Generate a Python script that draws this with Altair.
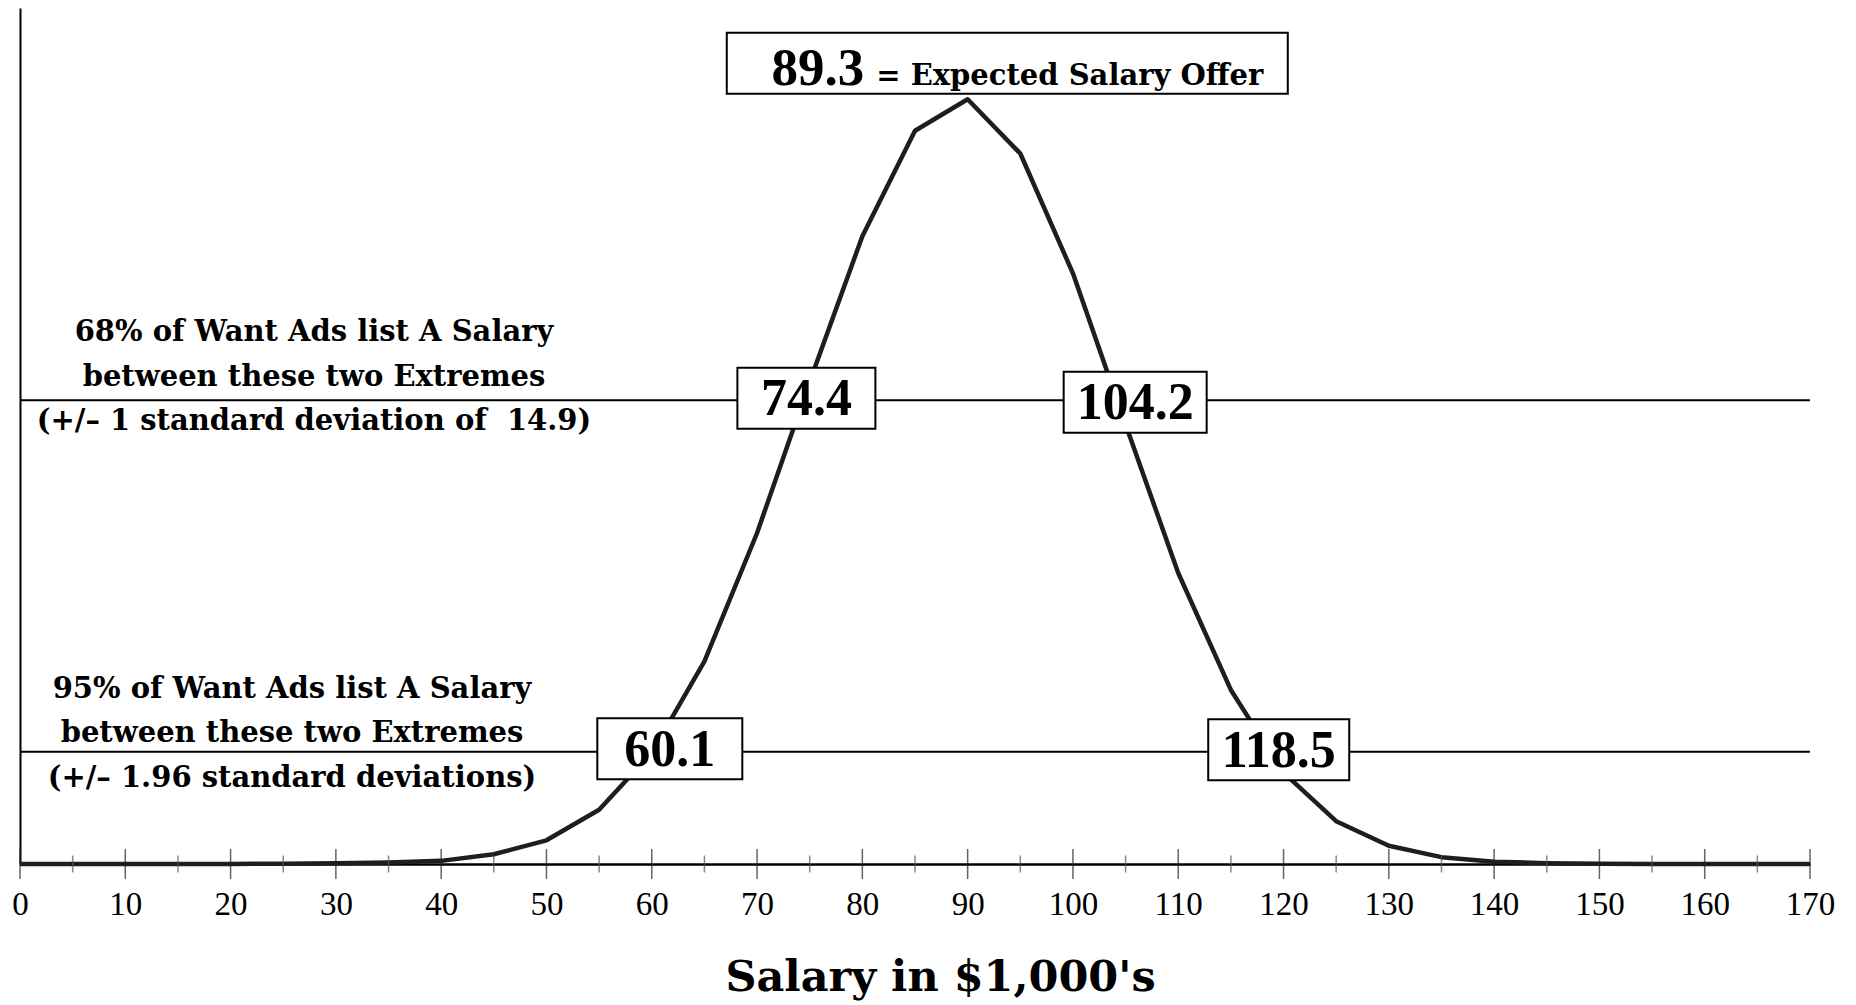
import altair as alt
import pandas as pd

# ---------------- data ----------------
salary_k = list(range(0, 175, 5))
density = [0, 0, 0, 0, 0, 0.00001, 0.00003, 0.00005, 0.00011, 0.00034,
           0.00083, 0.0019, 0.0039, 0.0071, 0.0116, 0.0169, 0.0220, 0.0257,
           0.0268, 0.0249, 0.0207, 0.0154, 0.0102, 0.0061, 0.0032, 0.0015,
           0.00064, 0.00024, 0.00008, 0.00003, 0.00001, 0, 0, 0, 0]

major_ticks = list(range(0, 171, 10))
minor_ticks = list(range(5, 170, 10))

mean_salary = 89.3
peak_density = 0.0268
one_sd_bounds = [74.4, 104.2]
two_sd_bounds = [60.1, 118.5]
level_68 = 0.01625
level_95 = 0.00393

mean_caption = "= Expected Salary Offer"
text_68 = ["68% of Want Ads list A Salary",
           "between these two Extremes",
           "(+/\u2013 1 standard deviation of\u00a0 14.9)"]
text_95 = ["95% of Want Ads list A Salary",
           "between these two Extremes",
           "(+/\u2013 1.96 standard deviations)"]
x_title = "Salary in $1,000's"

# ---------------- styling ----------------
SERIF = "DejaVu Serif"
NUM_FONT = "Liberation Serif"
INK = "#000000"
CURVE = "#1e1e1e"

X_SCALE = alt.Scale(domain=[0, 170], nice=False, zero=False)
Y_SCALE = alt.Scale(domain=[0, 0.03], nice=False)

x_axis = alt.Axis(values=major_ticks, ticks=False, grid=False,
                  domainColor=INK, domainWidth=2.5,
                  labelFont=NUM_FONT, labelFontSize=33, labelColor=INK,
                  labelBaseline="alphabetic", labelPadding=50,
                  labelFlush=False, labelOverlap=False,
                  title=x_title, titleFont=SERIF, titleFontSize=43,
                  titleFontWeight="bold", titleColor=INK,
                  titleX=920, titleY=126, titleBaseline="alphabetic",
                  titleAlign="center")
y_axis = alt.Axis(labels=False, ticks=False, grid=False, title=None,
                  domainColor=INK, domainWidth=2)

curve_df = pd.DataFrame({"salary": salary_k, "density": density})

curve = alt.Chart(curve_df).mark_line(
    color=CURVE, strokeWidth=4.5, strokeJoin="round"
).encode(
    x=alt.X("salary:Q", scale=X_SCALE, axis=x_axis),
    y=alt.Y("density:Q", scale=Y_SCALE, axis=y_axis),
)

levels_df = pd.DataFrame({"density": [level_68, level_95]})
rules = alt.Chart(levels_df).mark_rule(color=INK, strokeWidth=2).encode(
    y=alt.Y("density:Q", scale=Y_SCALE),
    x=alt.datum(0),
    x2=alt.datum(170),
)

ticks_major = alt.Chart(pd.DataFrame({"salary": major_ticks})).mark_tick(
    orient="vertical", size=30, thickness=1.5, color="#222222"
).encode(x=alt.X("salary:Q", scale=X_SCALE), y=alt.datum(0))

ticks_minor = alt.Chart(pd.DataFrame({"salary": minor_ticks})).mark_tick(
    orient="vertical", size=17, thickness=1.5, color="#555555"
).encode(x=alt.X("salary:Q", scale=X_SCALE), y=alt.datum(0))


def value_box(value, level, dx, dy, w=141, h=61):
    df = pd.DataFrame({"salary": [value], "density": [level]})
    base = alt.Chart(df)
    rect = base.mark_rect(
        width=w, height=h, fill="white", stroke=INK, strokeWidth=2,
        xOffset=dx, yOffset=dy
    ).encode(x=alt.X("salary:Q", scale=X_SCALE),
             y=alt.Y("density:Q", scale=Y_SCALE))
    txt = base.mark_text(
        font=NUM_FONT, fontSize=52, fontWeight="bold", color=INK,
        align="center", baseline="alphabetic", dx=dx, dy=dy + 17
    ).encode(x=alt.X("salary:Q", scale=X_SCALE),
             y=alt.Y("density:Q", scale=Y_SCALE),
             text=alt.Text("salary:Q", format=".1f"))
    return [rect, txt]


boxes = []
boxes += value_box(one_sd_bounds[0], level_68, 3, -2, w=138)
boxes += value_box(one_sd_bounds[1], level_68, 18, 2, w=143)
boxes += value_box(two_sd_bounds[0], level_95, 17, -3, w=145)
boxes += value_box(two_sd_bounds[1], level_95, 11, -2, w=141)

# top box: expected salary
mean_df = pd.DataFrame({"salary": [mean_salary], "density": [peak_density]})
mean_base = alt.Chart(mean_df)
mean_rect = mean_base.mark_rect(
    width=561, height=61, fill="white", stroke=INK, strokeWidth=2,
    xOffset=47, yOffset=-36
).encode(x=alt.X("salary:Q", scale=X_SCALE), y=alt.Y("density:Q", scale=Y_SCALE))
mean_num = mean_base.mark_text(
    font=NUM_FONT, fontSize=53, fontWeight="bold", color=INK,
    align="right", baseline="alphabetic", dx=-96, dy=-14
).encode(x=alt.X("salary:Q", scale=X_SCALE), y=alt.Y("density:Q", scale=Y_SCALE),
         text=alt.Text("salary:Q", format=".1f"))
mean_cap = mean_base.mark_text(
    font=SERIF, fontSize=29, fontWeight="bold", color=INK,
    align="left", baseline="alphabetic", dx=-84, dy=-14, text=mean_caption
).encode(x=alt.X("salary:Q", scale=X_SCALE), y=alt.Y("density:Q", scale=Y_SCALE))

note_68 = alt.Chart(pd.DataFrame({"density": [level_68]})).mark_text(
    font=SERIF, fontSize=29, fontWeight="bold", color=INK, align="center",
    baseline="alphabetic", lineHeight=44.5, dx=294, dy=-59, text=text_68
).encode(x=alt.datum(0), y=alt.Y("density:Q", scale=Y_SCALE))

note_95 = alt.Chart(pd.DataFrame({"density": [level_95]})).mark_text(
    font=SERIF, fontSize=29, fontWeight="bold", color=INK, align="center",
    baseline="alphabetic", lineHeight=44.5, dx=272, dy=-54, text=text_95
).encode(x=alt.datum(0), y=alt.Y("density:Q", scale=Y_SCALE))

chart = alt.layer(
    rules, curve, ticks_minor, ticks_major,
    *boxes, mean_rect, mean_num, mean_cap, note_68, note_95
).properties(
    width=1790, height=856,
    padding={"left": 3, "top": 0, "right": 10, "bottom": 10},
    background="white",
).configure_view(stroke=None)

chart.save("out.html", embed_options={"renderer": "svg", "actions": False})
